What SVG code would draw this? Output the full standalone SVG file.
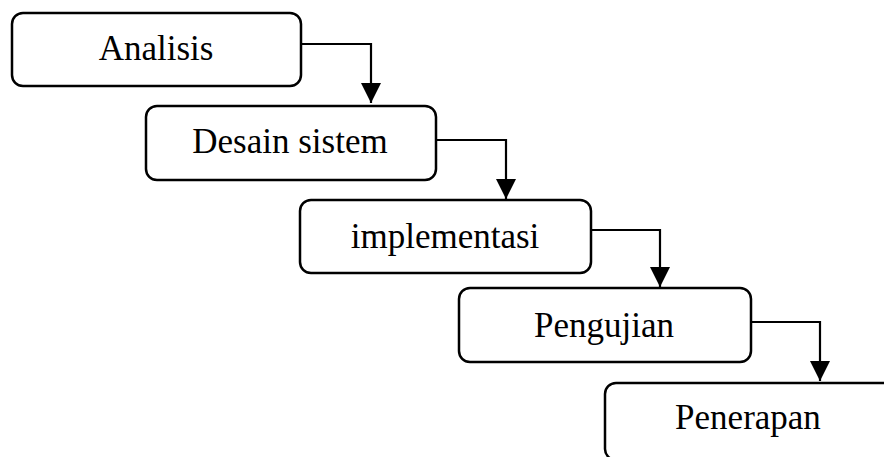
<svg xmlns="http://www.w3.org/2000/svg" width="884" height="457" viewBox="0 0 884 457">
<style>
.box{fill:#fff;stroke:#000;stroke-width:2.5}
.lbl{font-family:"Liberation Serif","Times New Roman",serif;font-size:35px;fill:#000;text-anchor:middle}
.conn{fill:none;stroke:#000;stroke-width:2.2}
</style>
<defs>
<marker id="ah" markerWidth="20" markerHeight="20" refX="10" refY="20" orient="0" markerUnits="userSpaceOnUse" viewBox="0 0 20 20">
<path d="M0,0 L20,0 L10,20 Z" fill="#000"/>
</marker>
</defs>
<rect width="884" height="457" fill="#fff"/>
<g id="n1"><rect class="box" x="12" y="13" width="289" height="73" rx="11"/><text class="lbl" x="156" y="60">Analisis</text></g>
<g id="n2"><rect class="box" x="146" y="106" width="290" height="74" rx="11"/><text class="lbl" x="290" y="153">Desain sistem</text></g>
<g id="n3"><rect class="box" x="300" y="200" width="291" height="73" rx="11"/><text class="lbl" x="445" y="248">implementasi</text></g>
<g id="n4"><rect class="box" x="459" y="288" width="292" height="74" rx="11"/><text class="lbl" x="604" y="337">Pengujian</text></g>
<g id="n5"><rect class="box" x="605" y="383" width="290" height="77" rx="11"/><text class="lbl" x="748" y="429">Penerapan</text></g>
<g id="connectors">
<path class="conn" d="M301,44 H371 V103" marker-end="url(#ah)"/>
<path class="conn" d="M436,140 H506 V199" marker-end="url(#ah)"/>
<path class="conn" d="M591,230 H660 V287" marker-end="url(#ah)"/>
<path class="conn" d="M751,322 H820 V381" marker-end="url(#ah)"/>
</g>
</svg>
